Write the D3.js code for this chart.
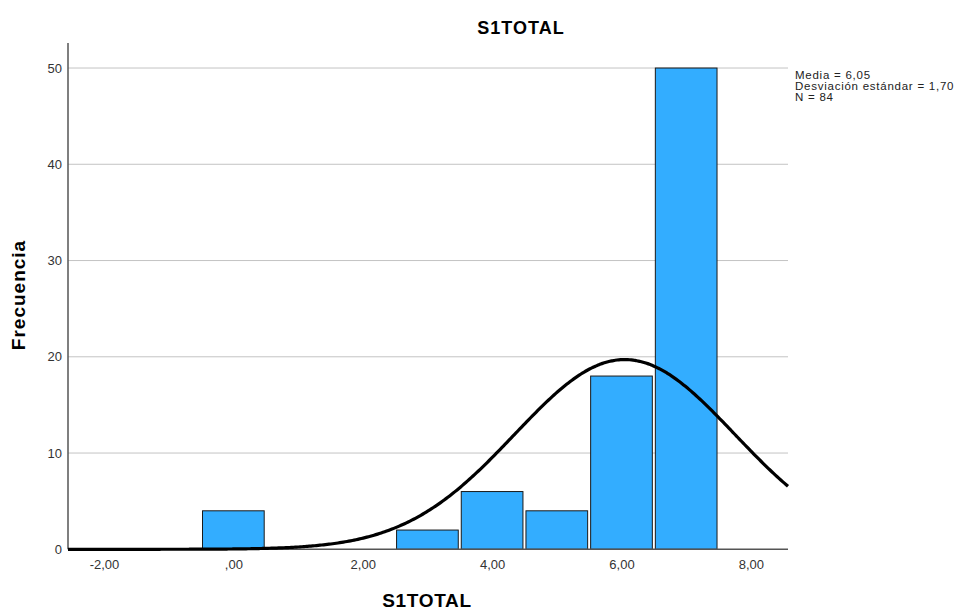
<!DOCTYPE html>
<html><head><meta charset="utf-8">
<script src="https://cdn.jsdelivr.net/npm/d3@7/dist/d3.min.js"></script>
<style>body{margin:0;background:#fff}svg{display:block;font-family:Arial,"Liberation Sans",sans-serif}</style>
</head><body><svg id="c" width="963" height="610"></svg>
<script>
const binCenters = [0, 3, 4, 5, 6, 7];
const frequencies = [4, 2, 6, 4, 18, 50];
const xTicks = [-2, 0, 2, 4, 6, 8];
const xTickLabels = ["-2,00", ",00", "2,00", "4,00", "6,00", "8,00"];
const yTicks = [0, 10, 20, 30, 40, 50];
const statLabels = ["Media = 6,05", "Desviación estándar = 1,70", "N = 84"];
const mean = 6.05, sd = 1.70, n = 84, binWidth = 1;

const svg = d3.select("#c");
const L = 68, R = 788, T = 43, B = 549.3;
const x = d3.scaleLinear().domain([-2.556, 8.574]).range([L, R]);
const y = d3.scaleLinear().domain([0, 52.6]).range([B, T]);

// gridlines
svg.append("g").selectAll("line").data(yTicks.filter(d => d > 0)).join("line")
  .attr("x1", L).attr("x2", R).attr("y1", d => y(d)).attr("y2", d => y(d))
  .attr("stroke", "#c4c4c4").attr("stroke-width", 1);

// bars
svg.append("g").selectAll("rect").data(binCenters).join("rect")
  .attr("x", (d) => x(d - binWidth / 2) + 1.5)
  .attr("width", d => x(d + binWidth / 2) - x(d - binWidth / 2) - 3)
  .attr("y", (d, i) => y(frequencies[i]))
  .attr("height", (d, i) => y(0) - y(frequencies[i]))
  .attr("fill", "#33adff").attr("stroke", "#1a1a1a").attr("stroke-width", 1);

// axes lines
svg.append("line").attr("x1", L).attr("x2", L).attr("y1", T).attr("y2", B)
  .attr("stroke", "#555").attr("stroke-width", 1.5);
svg.append("line").attr("x1", L).attr("x2", R).attr("y1", B).attr("y2", B)
  .attr("stroke", "#555").attr("stroke-width", 1.5);

// normal curve
const xs = d3.range(0, 401).map(i => x.domain()[0] + (x.domain()[1] - x.domain()[0]) * i / 400);
const curve = xs.map(v => [v, n * binWidth / (sd * Math.sqrt(2 * Math.PI)) * Math.exp(-0.5 * ((v - mean) / sd) ** 2)]);
svg.append("path").datum(curve)
  .attr("d", d3.line().x(d => x(d[0])).y(d => y(d[1])).curve(d3.curveBasis))
  .attr("fill", "none").attr("stroke", "#000").attr("stroke-width", 3.2);

// y tick labels
const ya = d3.axisLeft(y).tickValues(yTicks).tickSize(0).tickPadding(6).tickFormat(d3.format("d"));
const gy = svg.append("g").attr("transform", `translate(${L},0)`).call(ya);
gy.select(".domain").remove();
gy.selectAll("text").attr("font-size", 13).attr("fill", "#333").attr("font-family", "Arial, 'Liberation Sans', sans-serif");

// x tick labels
const xa = d3.axisBottom(x).tickValues(xTicks).tickSize(0).tickPadding(10).tickFormat((d, i) => xTickLabels[i]);
const gx = svg.append("g").attr("transform", `translate(0,${B})`).call(xa);
gx.select(".domain").remove();
gx.selectAll("text").attr("font-size", 13).attr("fill", "#333").attr("font-family", "Arial, 'Liberation Sans', sans-serif");

// titles
svg.append("text").attr("x", 521).attr("y", 34).attr("text-anchor", "middle")
  .attr("font-size", 18).attr("font-weight", "bold").attr("letter-spacing", 1).text("S1TOTAL");
svg.append("text").attr("x", 427).attr("y", 606.5).attr("text-anchor", "middle")
  .attr("font-size", 19).attr("font-weight", "bold").attr("letter-spacing", 0.7).text("S1TOTAL");
svg.append("text").attr("transform", "translate(25,295) rotate(-90)").attr("text-anchor", "middle")
  .attr("font-size", 19).attr("font-weight", "bold").attr("letter-spacing", 1).text("Frecuencia");

// stats
svg.append("g").selectAll("text").data(statLabels).join("text")
  .attr("x", 795).attr("y", (d, i) => 79 + i * 11)
  .attr("font-size", 11.5).attr("letter-spacing", 0.75).attr("fill", "#222").text(d => d);
</script></body></html>
